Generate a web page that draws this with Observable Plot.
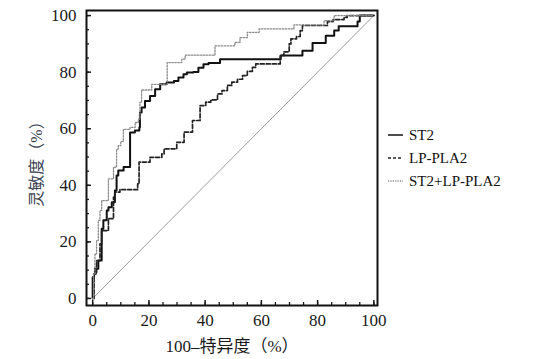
<!DOCTYPE html>
<html>
<head>
<meta charset="utf-8">
<script src="https://cdn.jsdelivr.net/npm/d3@7"></script>
<script src="https://cdn.jsdelivr.net/npm/@observablehq/plot@0.6"></script>
<style>
  html, body { margin: 0; padding: 0; background: #fff; }
  #chart { position: relative; width: 534px; height: 359px; overflow: hidden; }
  .t { position: absolute; white-space: nowrap; color: #1a1a1a; font-family: "Liberation Serif", "Noto Sans CJK SC", serif; }
  .leg { position: absolute; left: 388px; display: flex; align-items: center; font-family: "Liberation Serif", serif; font-size: 15px; color: #111; }
  .leg svg { margin-right: 6px; }
</style>
</head>
<body>
<div id="chart"></div>
<script>
// ROC curves: [100 - specificity (%), sensitivity (%)] at step corners
const st2 = [[0,0],[0,7.5],[0.5,8.7],[0.8,10.5],[2.0,13.4],[3.2,24.6],[3.8,27.6],[5.0,31.1],[5.6,32.2],[6.8,34.0],[7.9,38.2],[8.5,43.5],[9.1,45.2],[11.0,46.5],[13.3,47.6],[13.3,58.7],[15.0,59.4],[16.6,60.4],[16.8,65.7],[17.4,67.5],[18.6,69.8],[20.4,71.6],[22.2,74.0],[24.0,75.7],[26.3,76.3],[28.9,76.9],[30.5,78.1],[32.3,79.3],[33.5,79.9],[35.8,80.1],[37.6,81.6],[39.4,82.8],[41.2,83.2],[45.3,84.6],[66.9,85.9],[74.6,87.6],[78.2,90.3],[82.9,92.9],[85.9,94.7],[87.5,96.2],[94.2,97.9],[95.0,100],[100,100]];
const lpPla2 = [[0,0],[0.5,8.7],[1.4,13.4],[2.6,19.3],[3.2,24.0],[5.6,28.2],[7.4,35.8],[7.9,37.6],[9.7,38.5],[16.0,40.5],[16.5,48.2],[20.4,49.9],[24.6,51.1],[25.4,52.9],[29.9,55.2],[32.5,58.8],[35.5,62.9],[38.2,68.2],[40.2,69.4],[42.0,70.2],[44.4,72.3],[46.0,73.5],[47.9,75.3],[49.5,76.5],[51.5,77.5],[53.3,78.8],[55.0,80.3],[56.8,81.7],[58.0,82.9],[66.7,85.9],[68.0,87.2],[69.9,90.0],[70.5,91.8],[72.5,92.6],[73.8,94.7],[74.6,96.5],[83.5,97.9],[85.5,98.6],[89.4,99.4],[90.5,100],[100,100]];
const combined = [[0,0],[0.3,8.7],[0.8,15.8],[1.4,20.5],[2.0,27.6],[2.6,31.1],[3.2,34.6],[5.6,42.3],[7.4,46.4],[8.5,52.8],[9.1,54.0],[10.0,55.5],[10.9,59.8],[13.3,60.5],[15.1,62.2],[16.3,63.4],[16.8,69.3],[17.4,73.7],[21.0,75.7],[26.5,83.4],[31.7,84.6],[32.9,86.0],[43.5,89.3],[50.6,90.5],[52.4,92.2],[55.0,94.1],[59.2,95.3],[71.6,96.7],[82.3,98.2],[85.9,100],[100,100]];
const chance = [0, 100];
const majorTicks = [0, 20, 40, 60, 80, 100];
const minorTicks = d3.range(0, 101, 5);
const seriesNames = ["ST2", "LP-PLA2", "ST2+LP-PLA2"];
const xTitle = "100–特异度（%）";
const yTitle = "灵敏度（%）";

const toPts = arr => arr.map(([x, y]) => ({x, y}));
const styles = [
  {stroke: "#111", strokeWidth: 2, dash: null},
  {stroke: "#222", strokeWidth: 1.7, dash: "4,2"},
  {stroke: "#8a8a8a", strokeWidth: 1.3, dash: "1.5,1.5"}
];
const series = [st2, lpPla2, combined];

const plot = Plot.plot({
  width: 534,
  height: 359,
  marginLeft: 86,
  marginRight: 157,
  marginTop: 10,
  marginBottom: 54,
  style: {fontFamily: "Liberation Serif, serif", fontSize: "17px", color: "#1a1a1a", background: "#fff"},
  x: {domain: [-2.2, 101.3]},
  y: {domain: [-2.5, 101.8]},
  marks: [
    Plot.line(chance.map(v => ({x: v, y: v})), {x: "x", y: "y", stroke: "#9a9a9a", strokeWidth: 1}),
    ...series.map((s, i) => Plot.line(toPts(s), {
      x: "x", y: "y", curve: "step-after",
      stroke: styles[i].stroke, strokeWidth: styles[i].strokeWidth,
      strokeDasharray: styles[i].dash
    })),
    Plot.axisX({ticks: minorTicks, tickSize: -3, tickFormat: () => "", label: null, strokeWidth: 1.3}),
    Plot.axisX({ticks: majorTicks, tickSize: -5, tickPadding: 13, label: null, strokeWidth: 1.5, fontSize: 17}),
    Plot.axisY({ticks: minorTicks, tickSize: -3, tickFormat: () => "", label: null, strokeWidth: 1.3}),
    Plot.axisY({ticks: majorTicks, tickSize: -5, tickPadding: 15, label: null, strokeWidth: 1.5, fontSize: 17}),
    Plot.frame({stroke: "#111", strokeWidth: 2})
  ]
});
const chart = document.getElementById("chart");
chart.appendChild(plot);

// axis titles
const xt = document.createElement("div");
xt.className = "t";
xt.textContent = xTitle;
xt.style.cssText += "left:232px;top:344px;transform:translate(-50%,-50%);font-size:17px;";
chart.appendChild(xt);
const yt = document.createElement("div");
yt.className = "t";
yt.textContent = yTitle;
yt.style.cssText += "left:35px;top:160px;transform:translate(-50%,-50%) rotate(-90deg);font-size:16px;color:#3a4250;";
chart.appendChild(yt);

// legend
seriesNames.forEach((name, i) => {
  const d = document.createElement("div");
  d.className = "leg";
  d.style.top = (135 + i * 23 - 10) + "px";
  d.style.height = "20px";
  const st = styles[i];
  d.innerHTML = `<svg width="15" height="4"><line x1="0" y1="2" x2="15" y2="2" stroke="${st.stroke}" stroke-width="${Math.min(st.strokeWidth,1.5)}" ${st.dash ? `stroke-dasharray="${i===1?'3,2':'1.2,1.2'}"` : ""}/></svg><span>${name}</span>`;
  chart.appendChild(d);
});
</script>
</body>
</html>
